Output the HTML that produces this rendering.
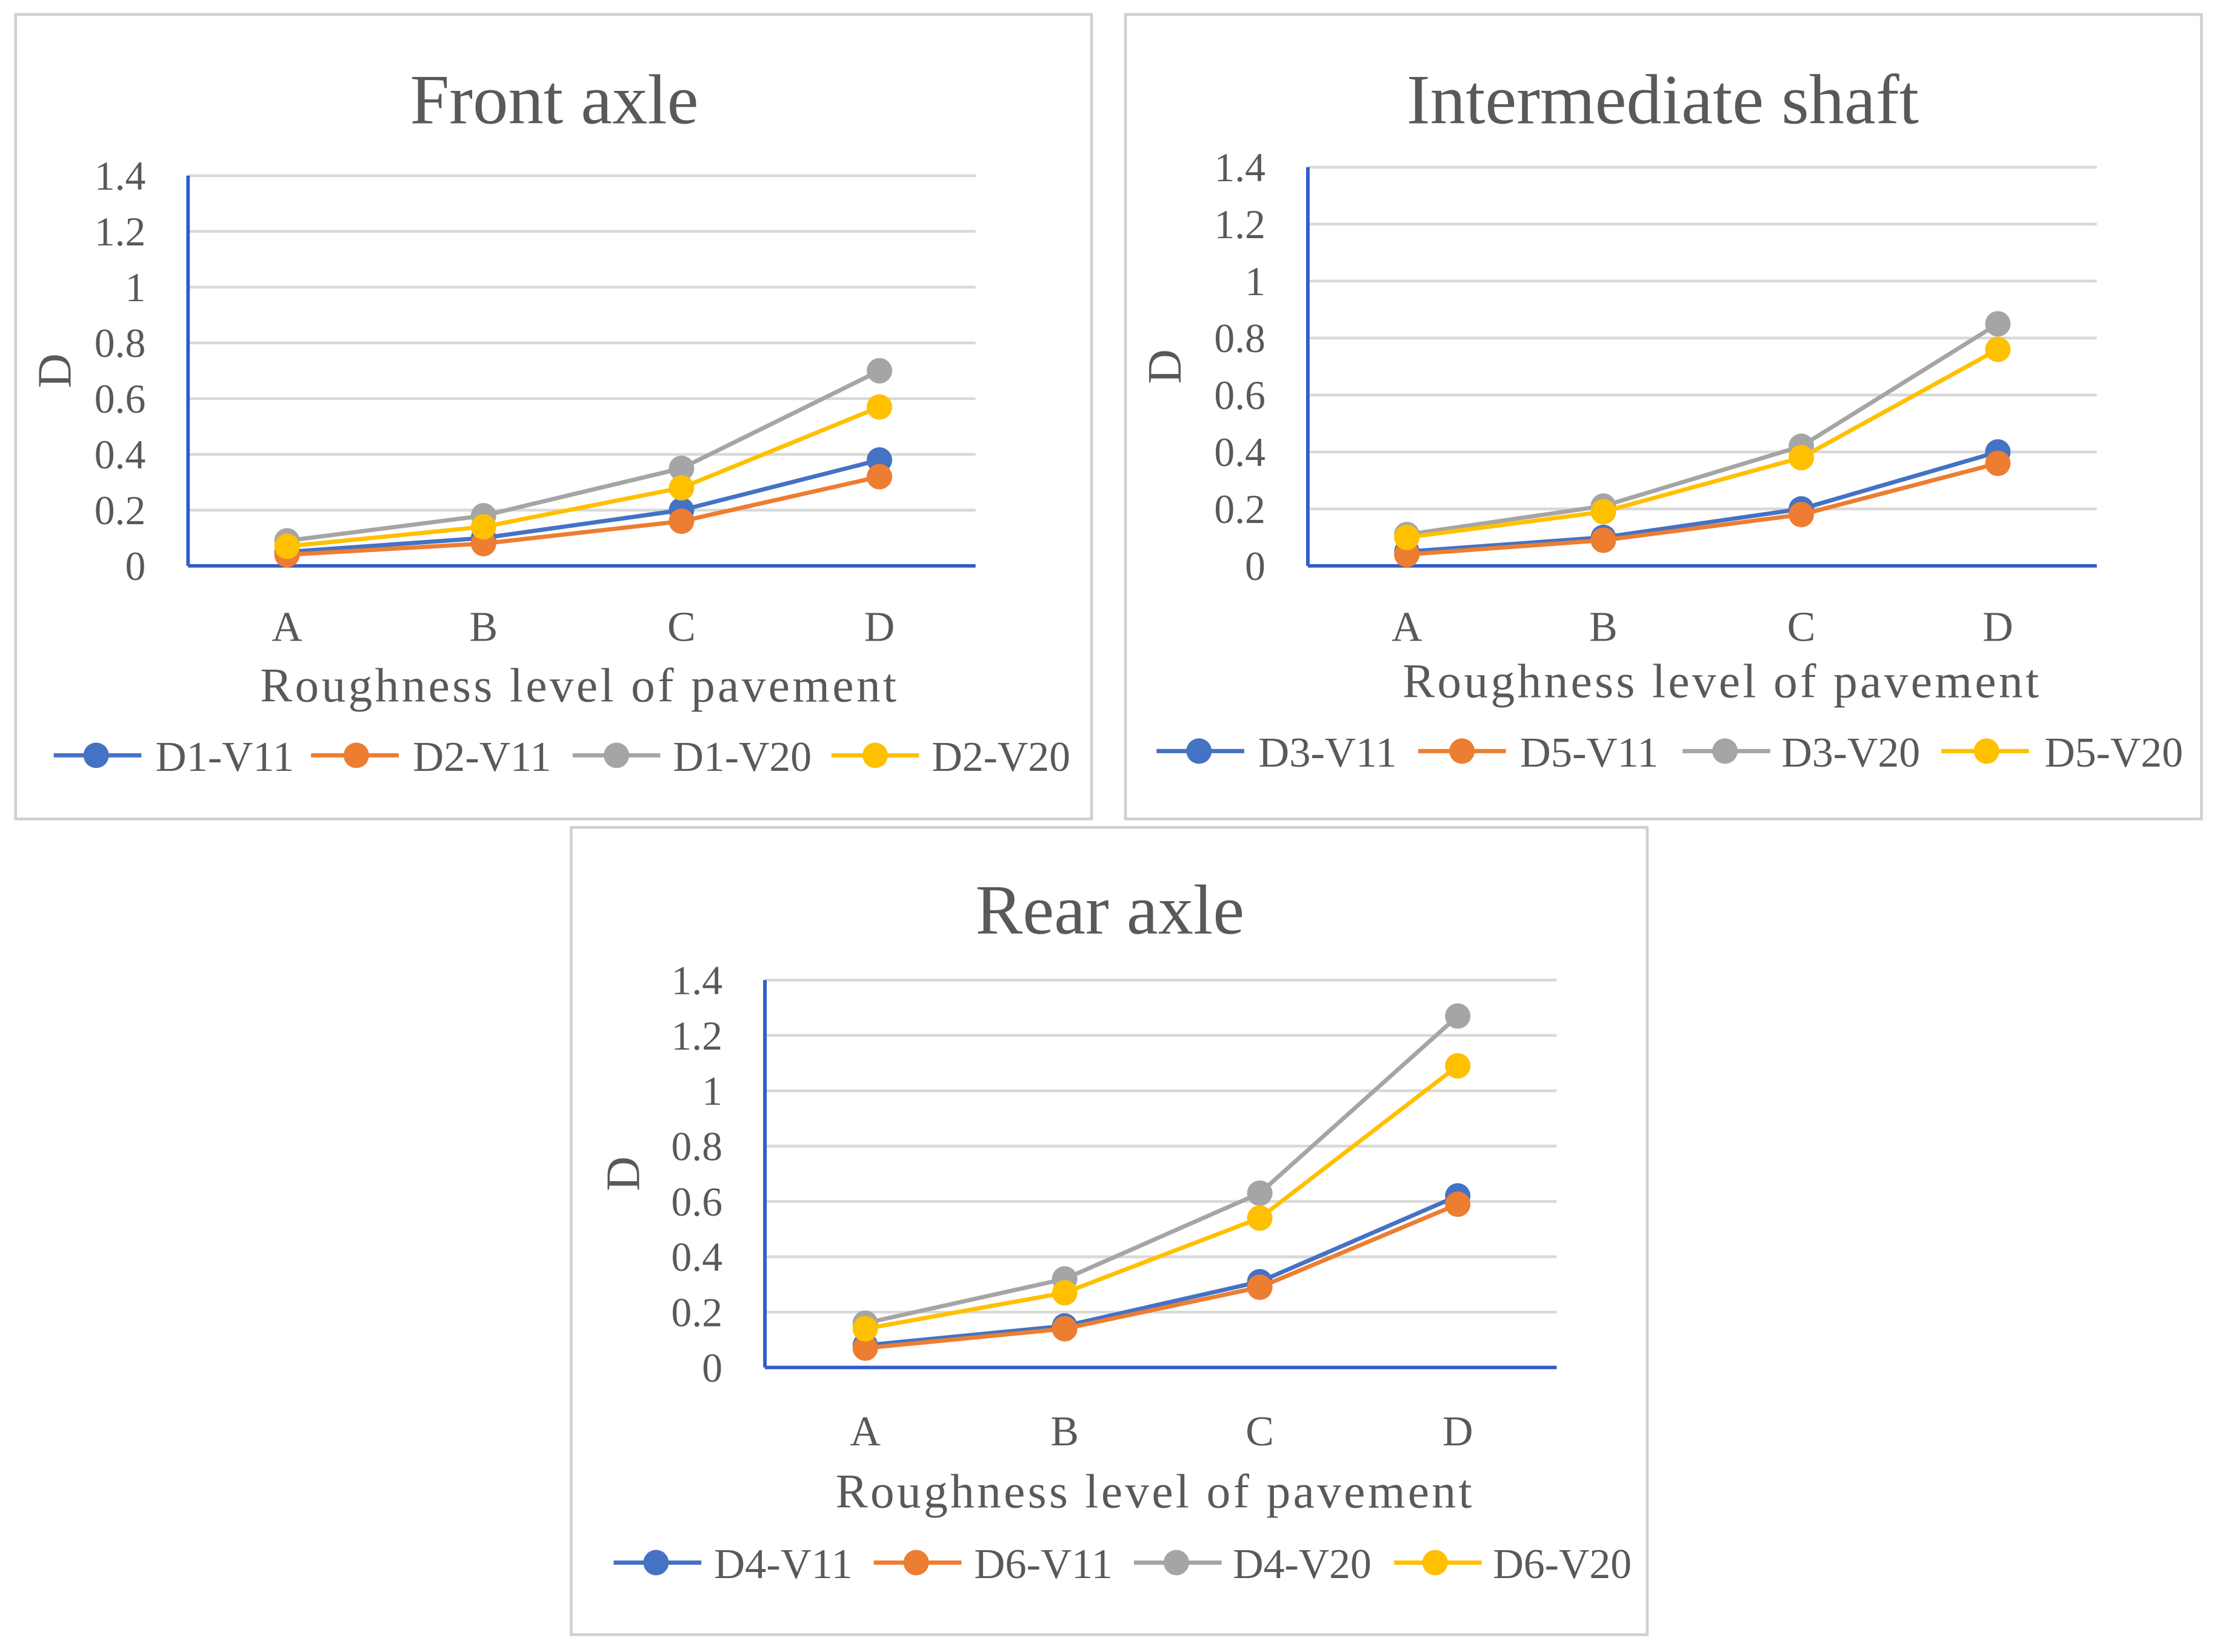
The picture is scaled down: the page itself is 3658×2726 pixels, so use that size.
<!DOCTYPE html>
<html><head><meta charset="utf-8"><style>
html,body{margin:0;padding:0;background:#fff;}
svg{display:block;}
text{font-family:"Liberation Serif",serif;fill:#595959;}
</style></head><body>
<svg id="fig" width="3658" height="2726" viewBox="0 0 1568 1168" xmlns="http://www.w3.org/2000/svg"></svg>
<script>
const categories = ["A","B","C","D"];
const yTicks = [0,0.2,0.4,0.6,0.8,1,1.2,1.4];
const yTickLabels = ["0","0.2","0.4","0.6","0.8","1","1.2","1.4"];
const colors = ["#4472C4","#ED7D31","#A5A5A5","#FFC000"];

const frontNames = ["D1-V11","D2-V11","D1-V20","D2-V20"];
const frontD1V11 = [0.05,0.10,0.20,0.38];
const frontD2V11 = [0.04,0.08,0.16,0.32];
const frontD1V20 = [0.09,0.18,0.35,0.70];
const frontD2V20 = [0.07,0.14,0.28,0.57];

const interNames = ["D3-V11","D5-V11","D3-V20","D5-V20"];
const interD3V11 = [0.05,0.10,0.20,0.40];
const interD5V11 = [0.04,0.09,0.18,0.36];
const interD3V20 = [0.11,0.21,0.42,0.85];
const interD5V20 = [0.10,0.19,0.38,0.76];

const rearNames = ["D4-V11","D6-V11","D4-V20","D6-V20"];
const rearD4V11 = [0.08,0.15,0.31,0.62];
const rearD6V11 = [0.07,0.14,0.29,0.59];
const rearD4V20 = [0.16,0.32,0.63,1.27];
const rearD6V20 = [0.14,0.27,0.54,1.09];

const NS="http://www.w3.org/2000/svg";
const svg=document.getElementById('fig');
function mk(tag,attrs,parent,txt){const e=document.createElementNS(NS,tag);for(const k in attrs)e.setAttribute(k,attrs[k]);if(txt!==undefined)e.textContent=txt;parent.appendChild(e);return e;}

const charts=[
 {key:'front',title:"Front axle",frame:[11,10,761,569],x0:133,x1:690,yTop:124,yBot:400,cx:[203,342,482,622],titleX:392,titleY:87,catY:453,axY:496,axX:409,yTitleX:40,legY:534,
  leg:[[38,68,110],[220,252,292],[405,436,476],[588,619,659]],names:frontNames,series:[frontD1V11,frontD2V11,frontD1V20,frontD2V20]},
 {key:'intermediate',title:"Intermediate shaft",frame:[796,10,761,569],x0:925,x1:1483,yTop:118,yBot:400,cx:[995,1134,1274,1413],titleX:1176,titleY:87,catY:453,axY:493,axX:1217,yTitleX:825,legY:531,
  leg:[[818,848,890],[1003,1034,1075],[1190,1220,1260],[1373,1405,1446]],names:interNames,series:[interD3V11,interD5V11,interD3V20,interD5V20]},
 {key:'rear',title:"Rear axle",frame:[404,585,761,571],x0:541,x1:1101,yTop:693,yBot:967,cx:[612,753,891,1031],titleX:785,titleY:660,catY:1022,axY:1066,axX:816,yTitleX:442,legY:1105,
  leg:[[434,464,505],[618,648,689],[802,832,872],[986,1015,1056]],names:rearNames,series:[rearD4V11,rearD6V11,rearD4V20,rearD6V20]}
];

charts.forEach(c=>{
  const g=mk('g',{},svg);
  
  
  const fr=mk('rect',{x:c.frame[0],y:c.frame[1],width:c.frame[2],height:c.frame[3],fill:'#fff',stroke:'#d0d0d0','stroke-width':2},g);
  
  
  const t=mk('text',{x:c.titleX,y:c.titleY,'text-anchor':'middle','font-size':50},g,c.title);
  
  
  const yv=v=>c.yBot-(v/1.4)*(c.yBot-c.yTop);
  yTicks.forEach((v,i)=>{
    if(v>0){const gl=mk('line',{x1:c.x0,x2:c.x1,y1:yv(v),y2:yv(v),stroke:'#d9d9d9','stroke-width':2},g);
      
      }
    const tl=mk('text',{x:c.x0-30,y:yv(v)+10,'text-anchor':'end','font-size':29},g,yTickLabels[i]);
    
    
  });
  const ya=mk('line',{x1:c.x0,x2:c.x0,y1:c.yTop,y2:c.yBot,stroke:'#2F5CC8','stroke-width':2.5},g);
  
  
  const xa=mk('line',{x1:c.x0,x2:c.x1,y1:c.yBot,y2:c.yBot,stroke:'#2F5CC8','stroke-width':2.5},g);
  
  
  categories.forEach((cat,i)=>{
    const cl=mk('text',{x:c.cx[i],y:c.catY,'text-anchor':'middle','font-size':30},g,cat);
    
    
  });
  const xt=mk('text',{x:c.axX,y:c.axY,'text-anchor':'middle','font-size':34,textLength:450,lengthAdjust:'spacing'},g,"Roughness level  of pavement");
  
  
  const yt=mk('text',{x:c.yTitleX+10,y:(c.yTop+c.yBot)/2,'text-anchor':'middle','font-size':34,transform:`rotate(-90 ${c.yTitleX+10} ${(c.yTop+c.yBot)/2})`},g,"D");
  
  
  c.series.forEach((s,si)=>{
    const pts=s.map((v,i)=>c.cx[i]+','+yv(v)).join(' ');
    const pl=mk('polyline',{points:pts,fill:'none',stroke:colors[si],'stroke-width':3},g);
    
    
    s.forEach((v,i)=>{
      const m=mk('circle',{cx:c.cx[i],cy:yv(v),r:9,fill:colors[si]},g);
      
      
    });
  });
  c.leg.forEach((L,i)=>{
    const lg=mk('g',{},g);
    
    
    mk('line',{x1:L[0],x2:L[0]+62,y1:c.legY,y2:c.legY,stroke:colors[i],'stroke-width':3},lg);
    mk('circle',{cx:L[1],cy:c.legY,r:9,fill:colors[i]},lg);
    mk('text',{x:L[2],y:c.legY+11,'font-size':30,textLength:98,lengthAdjust:'spacingAndGlyphs'},lg,c.names[i]);
  });
});
</script>
</body></html>
